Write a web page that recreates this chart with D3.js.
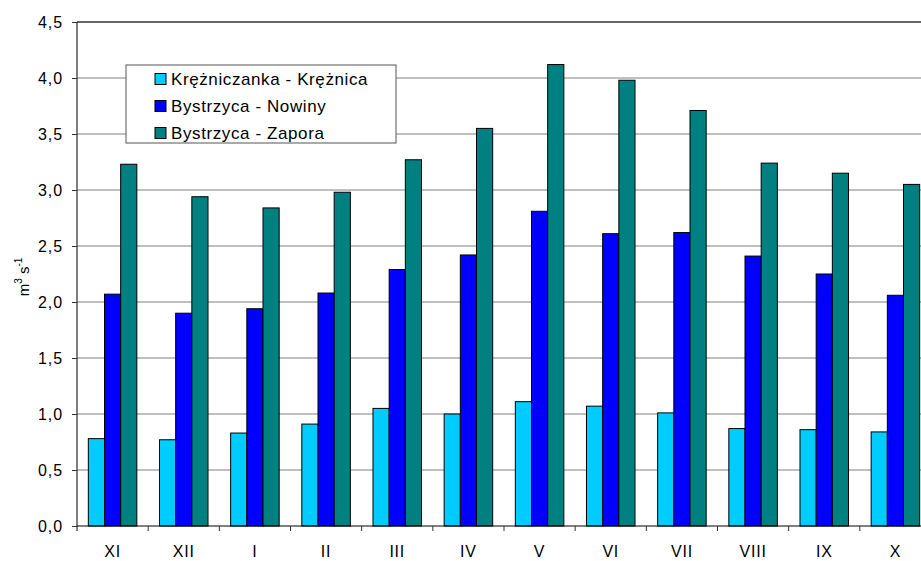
<!DOCTYPE html>
<html lang="pl">
<head>
<meta charset="UTF-8">
<title>Przepływy</title>
<script src="https://d3js.org/d3.v7.min.js"></script>
<style>
  body { margin: 0; background: #fff; }
  svg { display: block; font-family: "Liberation Sans", Arial, sans-serif; }
</style>
</head>
<body>
<svg width="921" height="561"></svg>
<script>
// months (hydrological year)
const months = ["XI", "XII", "I", "II", "III", "IV", "V", "VI", "VII", "VIII", "IX", "X"];
const seriesNames = ["Krężniczanka - Krężnica", "Bystrzyca - Nowiny", "Bystrzyca - Zapora"];
const kreznica = [0.78, 0.77, 0.83, 0.91, 1.05, 1.00, 1.11, 1.07, 1.01, 0.87, 0.86, 0.84];
const nowiny   = [2.07, 1.90, 1.94, 2.08, 2.29, 2.42, 2.81, 2.61, 2.62, 2.41, 2.25, 2.06];
const zapora   = [3.23, 2.94, 2.84, 2.98, 3.27, 3.55, 4.12, 3.98, 3.71, 3.24, 3.15, 3.05];
const yTicks = [0, 0.5, 1, 1.5, 2, 2.5, 3, 3.5, 4, 4.5];
const colors = ["#00ccff", "#0000ff", "#008080"];

const svg = d3.select("svg");
const mLeft = 77, mTop = 22, mBottom = 526, plotW = 854;
const font = "Liberation Sans, Arial, sans-serif";

const x = d3.scaleBand().domain(months).range([mLeft, mLeft + plotW]);
const xs = d3.scaleBand().domain(seriesNames).range([0, x.bandwidth()])
  .paddingInner(0).paddingOuter(0.7);
const y = d3.scaleLinear().domain([0, 4.5]).range([mBottom, mTop]);

// gridlines
svg.append("g").selectAll("line")
  .data(yTicks.slice(1, -1))
  .join("line")
  .attr("x1", mLeft).attr("x2", mLeft + plotW)
  .attr("y1", d => y(d)).attr("y2", d => y(d))
  .attr("stroke", "#808080").attr("stroke-width", 1);

// top border
svg.append("line")
  .attr("x1", mLeft).attr("x2", mLeft + plotW)
  .attr("y1", y(4.5)).attr("y2", y(4.5))
  .attr("stroke", "#333").attr("stroke-width", 1.3);

// bars
const data = [kreznica, nowiny, zapora];
const groups = svg.append("g").selectAll("g")
  .data(data)
  .join("g")
  .attr("fill", (d, i) => colors[i]);
groups.selectAll("rect")
  .data((d, i) => d.map((v, j) => ({ v, m: months[j], s: seriesNames[i] })))
  .join("rect")
  .attr("x", d => x(d.m) + xs(d.s))
  .attr("width", xs.bandwidth())
  .attr("y", d => y(d.v))
  .attr("height", d => mBottom - y(d.v))
  .attr("stroke", "#000")
  .attr("stroke-width", 1);

// y axis
const yAxis = svg.append("g")
  .attr("transform", `translate(${mLeft},0)`)
  .call(d3.axisLeft(y).tickValues(yTicks).tickSize(5).tickPadding(9)
    .tickFormat(d => d3.format(".1f")(d).replace(".", ",")));
yAxis.select(".domain").attr("stroke", "#000").attr("d", `M0,${mTop}V${mBottom + 5}`);
yAxis.selectAll("line").attr("stroke", "#333");
yAxis.selectAll("text").attr("font-size", 16).attr("fill", "#000")
  .attr("letter-spacing", 0.9).attr("font-family", font);

// x axis
const xAxis = svg.append("g")
  .attr("transform", `translate(0,${mBottom})`)
  .call(d3.axisBottom(x).tickSize(0).tickPadding(20));
xAxis.select(".domain").attr("stroke", "#000").attr("d", `M${mLeft},0H${mLeft + plotW}`);
xAxis.selectAll("text").attr("font-size", 16).attr("fill", "#000")
  .attr("letter-spacing", 0.8).attr("font-family", font);
// tick marks between categories
svg.append("g").selectAll("line")
  .data(months.slice(1))
  .join("line")
  .attr("x1", d => x(d)).attr("x2", d => x(d))
  .attr("y1", mBottom).attr("y2", mBottom + 5)
  .attr("stroke", "#333");

// y axis title
const yt = svg.append("text")
  .attr("transform", "translate(29,277) rotate(-90)")
  .attr("text-anchor", "middle")
  .attr("font-size", 15);
yt.append("tspan").text("m");
yt.append("tspan").attr("dy", -7).attr("font-size", 10).text("3");
yt.append("tspan").attr("dy", 7).text(" s");
yt.append("tspan").attr("dy", -7).attr("font-size", 10).text("-1");

// legend
const lg = svg.append("g").attr("transform", "translate(126,65)");
lg.append("rect").attr("width", 270).attr("height", 78)
  .attr("fill", "#fff").attr("stroke", "#555").attr("stroke-width", 1);
const li = lg.selectAll("g.item")
  .data(seriesNames)
  .join("g")
  .attr("class", "item")
  .attr("transform", (d, i) => `translate(29,${14 + i * 27})`);
li.append("rect").attr("x", 0).attr("y", -5.5).attr("width", 11).attr("height", 11)
  .attr("fill", (d, i) => colors[i]).attr("stroke", "#000");
li.append("text").attr("x", 16).attr("dy", "0.36em")
  .attr("font-size", 17).attr("letter-spacing", 0.6).text(d => d);
</script>
</body>
</html>
